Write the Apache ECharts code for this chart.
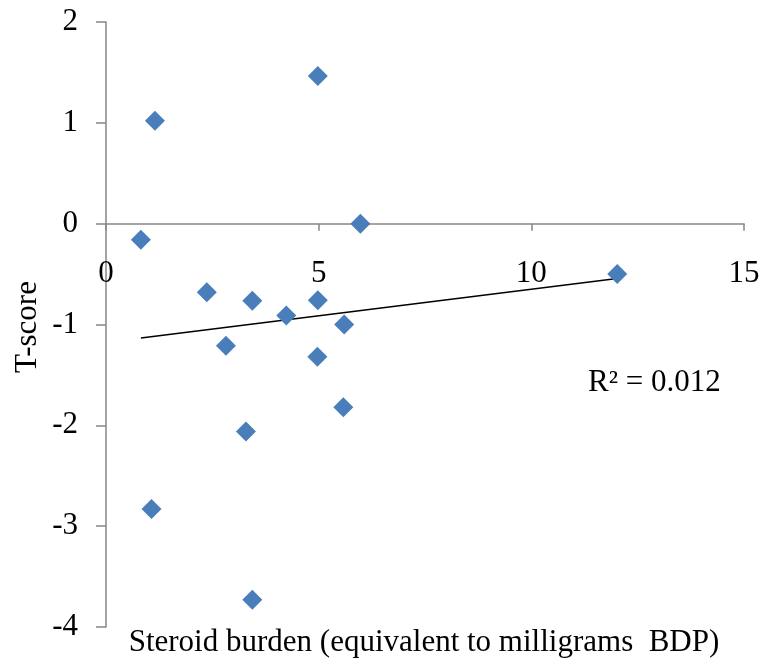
<!DOCTYPE html>
<html>
<head>
<meta charset="utf-8">
<script src="https://cdn.jsdelivr.net/npm/echarts@6/dist/echarts.min.js"></script>
<style>
html,body{margin:0;padding:0;background:#fff;}
#chart{width:766px;height:667px;}
</style>
</head>
<body>
<div id="chart"></div>
<script>
// Data
const steroidBurden = [0.82, 1.15, 1.07, 2.37, 2.82, 3.29, 3.44, 3.44, 4.24, 4.98, 4.98, 4.97, 5.60, 5.58, 5.98, 12.02];
const tScore        = [-0.16, 1.02, -2.83, -0.68, -1.21, -2.06, -0.765, -3.73, -0.91, 1.465, -0.76, -1.32, -1.00, -1.82, 0.00, -0.50];
const trendX = [0.82, 12.02];
const trendY = [-1.135, -0.543];
const xTicks = [0, 5, 10, 15];
const yTicks = [-4, -3, -2, -1, 0, 1, 2];
const xTitle = 'Steroid burden (equivalent to milligrams  BDP)';
const yTitle = 'T-score';
const rSquaredText = 'R² = 0.012';

const FONT = '"Liberation Serif", "Times New Roman", serif';
const chart = echarts.init(document.getElementById('chart'), null, {renderer: 'canvas'});
const points = steroidBurden.map((x, i) => [x, tScore[i]]);
const trend = trendX.map((x, i) => [x, trendY[i]]);

chart.setOption({
  animation: false,
  backgroundColor: '#ffffff',
  grid: {left: 106, top: 22, width: 638, height: 605, containLabel: false, outerBoundsMode: 'none'},
  xAxis: {
    type: 'value',
    min: xTicks[0], max: xTicks[xTicks.length - 1], interval: 5,
    axisLine: {onZero: true, lineStyle: {color: '#868686', width: 1.5}},
    axisTick: {show: true, length: 7, lineStyle: {color: '#868686', width: 1.5}},
    axisLabel: {margin: -369, color: '#000', fontFamily: FONT, fontSize: 31},
    splitLine: {show: false}
  },
  yAxis: {
    type: 'value',
    min: yTicks[0], max: yTicks[yTicks.length - 1], interval: 1,
    axisLine: {show: true, onZero: false, lineStyle: {color: '#868686', width: 1.5}},
    axisTick: {show: true, length: 10, lineStyle: {color: '#868686', width: 1.5}},
    axisLabel: {margin: 28, color: '#000', fontFamily: FONT, fontSize: 31},
    splitLine: {show: false}
  },
  series: [
    {
      type: 'line',
      data: trend,
      showSymbol: false,
      symbol: 'none',
      lineStyle: {color: '#000', width: 1.5},
      z: 3
    },
    {
      type: 'scatter',
      data: points,
      symbol: 'diamond',
      symbolSize: 20,
      itemStyle: {color: '#4A7EBB', opacity: 1},
      z: 4
    }
  ],
  graphic: [
    {
      type: 'text', x: 424, y: 643,
      style: {text: xTitle, font: '31px ' + FONT, fill: '#000', align: 'center', verticalAlign: 'middle'}
    },
    {
      type: 'text', x: 28, y: 327, rotation: Math.PI / 2,
      style: {text: yTitle, font: '31px ' + FONT, fill: '#000', align: 'center', verticalAlign: 'middle'}
    },
    {
      type: 'text', x: 588, y: 383,
      style: {text: rSquaredText, font: '31px ' + FONT, fill: '#000', align: 'left', verticalAlign: 'middle'}
    }
  ]
});
</script>
</body>
</html>
